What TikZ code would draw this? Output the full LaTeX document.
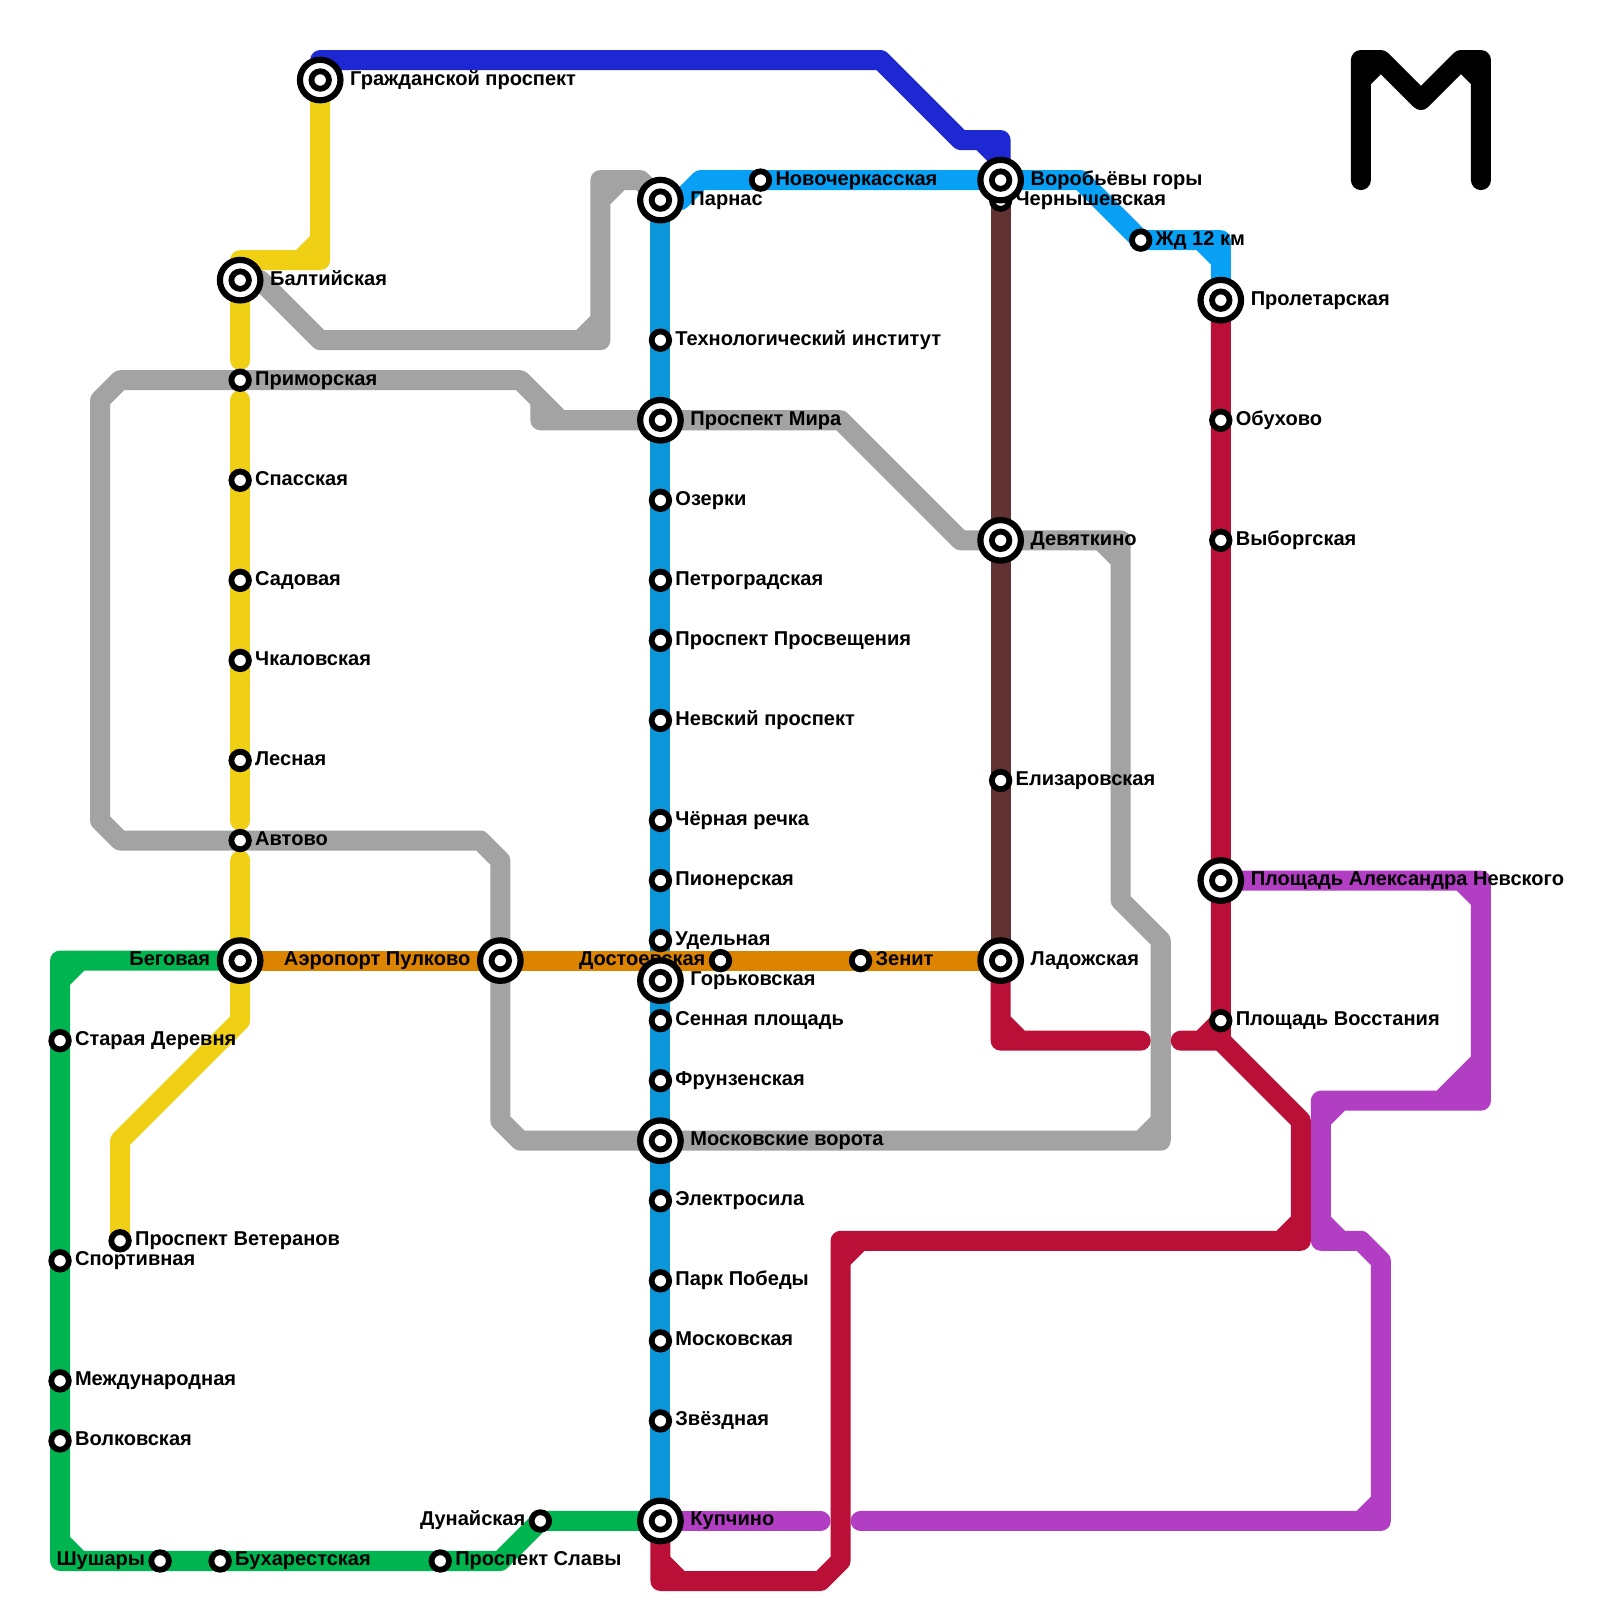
\documentclass[tikz,border=0pt]{standalone}
\usepackage{fontspec}
\setmainfont{Liberation Sans}
\pgfdeclarelayer{bg}\pgfdeclarelayer{lines}\pgfdeclarelayer{labels}
\pgfsetlayers{bg,lines,labels,main}
\definecolor{cDark}{HTML}{1E28D2}
\definecolor{cSky}{HTML}{08A0F5}
\definecolor{cBlue}{HTML}{0A96D8}
\definecolor{cYellow}{HTML}{F0D014}
\definecolor{cGray}{HTML}{A3A3A3}
\definecolor{cGreen}{HTML}{00B450}
\definecolor{cOrange}{HTML}{DC8400}
\definecolor{cBrown}{HTML}{623232}
\definecolor{cRed}{HTML}{BA1038}
\definecolor{cPurple}{HTML}{B23EC4}
\tikzset{
  metro/.style={line width=2mm,line cap=round,line join=round},
  smallst/.style={circle,draw=black,fill=white,line width=0.58mm,minimum size=1.75mm,inner sep=0pt,outer sep=0pt},
  bigst/.style={circle,draw=black,fill=white,line width=0.62mm,minimum size=4.05mm,inner sep=0pt,outer sep=0pt,
    path picture={\draw[black,line width=0.58mm] (path picture bounding box.center) circle (0.875mm);}},
  lab/.style={font=\bfseries\fontsize{5.7}{6.8}\selectfont,text=black,inner sep=0pt,outer sep=0pt}
}
\newcommand{\sst}[3]{\node[smallst] (#1) at (#2,#3) {};}
\newcommand{\bst}[3]{\node[bigst] (#1) at (#2,#3) {};}
\newcommand{\lbl}[4]{\node[lab,anchor=base #2] (#1-l) at ([shift={(#3,5)}]#1.center) {#4};}
\begin{document}
\begin{tikzpicture}[x=0.1mm,y=-0.1mm]
\useasboundingbox (0,0) rectangle (1599,1599);
\begin{pgfonlayer}{bg}
\fill[white] (0,0) rectangle (1599,1599);
\end{pgfonlayer}

% stations
\bst{grazh}{320}{80}
\bst{balt}{240}{280}
\sst{prim}{240}{380}
\sst{spas}{240}{480}
\sst{sad}{240}{580}
\sst{chk}{240}{660}
\sst{les}{240}{760}
\sst{avt}{240}{840}
\bst{beg}{240}{960}
\sst{vet}{120}{1240}
\bst{parn}{660}{200}
\sst{tech}{660}{340}
\bst{mira}{660}{420}
\sst{ozer}{660}{500}
\sst{petr}{660}{580}
\sst{pros}{660}{640}
\sst{nev}{660}{720}
\sst{cher}{660}{820}
\sst{pion}{660}{880}
\sst{ude}{660}{940}
\bst{gor}{660}{980}
\sst{sen}{660}{1020}
\sst{fru}{660}{1080}
\bst{mosv}{660}{1140}
\sst{ele}{660}{1200}
\sst{park}{660}{1280}
\sst{mos}{660}{1340}
\sst{zve}{660}{1420}
\bst{kup}{660}{1520}
\bst{aer}{500}{960}
\sst{dos}{720}{960}
\sst{zen}{860}{960}
\bst{lad}{1000}{960}
\sst{sta}{60}{1040}
\sst{spo}{60}{1260}
\sst{mez}{60}{1380}
\sst{vol}{60}{1440}
\sst{shu}{160}{1560}
\sst{buh}{220}{1560}
\sst{sla}{440}{1560}
\sst{dun}{540}{1520}
\sst{che}{1000}{200}
\bst{vor}{1000}{180}
\bst{dev}{1000}{540}
\sst{eli}{1000}{780}
\sst{nov}{760}{180}
\sst{zhd}{1140}{240}
\bst{pro}{1220}{300}
\sst{obu}{1220}{420}
\sst{vyb}{1220}{540}
\bst{ale}{1220}{880}
\sst{vos}{1220}{1020}

% free line ends
\coordinate (yA) at (240,360);
\coordinate (yB) at (240,400);
\coordinate (yC) at (240,820);
\coordinate (yD) at (240,860);
\coordinate (rA) at (1140,1040);
\coordinate (rB) at (1180,1040);
\coordinate (pA) at (820,1520);
\coordinate (pB) at (860,1520);
\coordinate (mA) at (1360,180);
\coordinate (mB) at (1480,180);

\begin{pgfonlayer}{labels}
\lbl{grazh}{west}{30}{Гражданской проспект}
\lbl{balt}{west}{30}{Балтийская}
\lbl{prim}{west}{15}{Приморская}
\lbl{spas}{west}{15}{Спасская}
\lbl{sad}{west}{15}{Садовая}
\lbl{chk}{west}{15}{Чкаловская}
\lbl{les}{west}{15}{Лесная}
\lbl{avt}{west}{15}{Автово}
\lbl{beg}{east}{-30}{Беговая}
\lbl{vet}{west}{15}{Проспект Ветеранов}
\lbl{parn}{west}{30}{Парнас}
\lbl{tech}{west}{15}{Технологический институт}
\lbl{mira}{west}{30}{Проспект Мира}
\lbl{ozer}{west}{15}{Озерки}
\lbl{petr}{west}{15}{Петроградская}
\lbl{pros}{west}{15}{Проспект Просвещения}
\lbl{nev}{west}{15}{Невский проспект}
\lbl{cher}{west}{15}{Чёрная речка}
\lbl{pion}{west}{15}{Пионерская}
\lbl{ude}{west}{15}{Удельная}
\lbl{gor}{west}{30}{Горьковская}
\lbl{sen}{west}{15}{Сенная площадь}
\lbl{fru}{west}{15}{Фрунзенская}
\lbl{mosv}{west}{30}{Московские ворота}
\lbl{ele}{west}{15}{Электросила}
\lbl{park}{west}{15}{Парк Победы}
\lbl{mos}{west}{15}{Московская}
\lbl{zve}{west}{15}{Звёздная}
\lbl{kup}{west}{30}{Купчино}
\lbl{aer}{east}{-30}{Аэропорт Пулково}
\lbl{dos}{east}{-15}{Достоевская}
\lbl{zen}{west}{15}{Зенит}
\lbl{lad}{west}{30}{Ладожская}
\lbl{sta}{west}{15}{Старая Деревня}
\lbl{spo}{west}{15}{Спортивная}
\lbl{mez}{west}{15}{Международная}
\lbl{vol}{west}{15}{Волковская}
\lbl{shu}{east}{-15}{Шушары}
\lbl{buh}{west}{15}{Бухарестская}
\lbl{sla}{west}{15}{Проспект Славы}
\lbl{dun}{east}{-15}{Дунайская}
\lbl{che}{west}{15}{Чернышевская}
\lbl{vor}{west}{30}{Воробьёвы горы}
\lbl{dev}{west}{30}{Девяткино}
\lbl{eli}{west}{15}{Елизаровская}
\lbl{nov}{west}{15}{Новочеркасская}
\lbl{zhd}{west}{15}{Жд 12 км}
\lbl{pro}{west}{30}{Пролетарская}
\lbl{obu}{west}{15}{Обухово}
\lbl{vyb}{west}{15}{Выборгская}
\lbl{ale}{west}{30}{Площадь Александра Невского}
\lbl{vos}{west}{15}{Площадь Восстания}
\end{pgfonlayer}

\begin{pgfonlayer}{lines}
% gray
\draw[metro,cGray] (balt.center) -- (260,280) -- (320,340) -- (600,340) -- (600,180) -- (640,180) -- (parn.center)
  (580,340) -- (600,320) (600,200) -- (620,180);
\draw[metro,cGray] (prim.center) -- (520,380) -- (540,400) -- (540,420) -- (mira.center) -- (840,420) -- (960,540) -- (dev.center) -- (1120,540) -- (1120,900) -- (1160,940) -- (1160,1140) -- (mosv.center) -- (520,1140) -- (500,1120) -- (aer.center) -- (500,860) -- (480,840) -- (avt.center) -- (120,840) -- (100,820) -- (100,400) -- (120,380) -- (prim.center)
  (540,400) -- (560,420) (1100,540) -- (1120,560) (1140,1140) -- (1160,1120);
% yellow
\draw[metro,cYellow] (grazh.center) -- (320,260) -- (240,260) -- (balt.center) -- (yA)
  (320,240) -- (300,260);
\draw[metro,cYellow] (yB) -- (yC);
\draw[metro,cYellow] (yD) -- (beg.center) -- (240,1020) -- (120,1140) -- (vet.center);
% purple
\draw[metro,cPurple] (ale.center) -- (1480,880) -- (1480,1100) -- (1320,1100) -- (1320,1240) -- (1360,1240) -- (1380,1260) -- (1380,1520) -- (pB)
  (1460,880) -- (1480,900) (1440,1100) -- (1480,1060) (1460,1100) -- (1480,1080) (1320,1120) -- (1340,1100) (1320,1220) -- (1340,1240) (1360,1520) -- (1380,1500);
\draw[metro,cPurple] (kup.center) -- (pA);
% crimson
\draw[metro,cRed] (pro.center) -- (vos.center) -- (1220,1040) -- (rB) (1200,1040) -- (1220,1020);
\draw[metro,cRed] (1220,1040) -- (1300,1120) -- (1300,1240) -- (840,1240) -- (840,1560) -- (820,1580) -- (660,1580) -- (kup.center)
  (1280,1240) -- (1300,1220) (840,1260) -- (860,1240) (660,1560) -- (680,1580);
\draw[metro,cRed] (lad.center) -- (1000,1040) -- (rA) (1000,1020) -- (1020,1040);
% green
\draw[metro,cGreen] (beg.center) -- (60,960) -- (60,1560) -- (500,1560) -- (dun.center) -- (kup.center)
  (60,980) -- (80,960) (60,1540) -- (80,1560);
% blue
\draw[metro,cBlue] (parn.center) -- (kup.center);
% orange
\draw[metro,cOrange] (beg.center) -- (lad.center);
% brown
\draw[metro,cBrown] (che.center) -- (lad.center);
% sky
\draw[metro,cSky] (parn.center) -- (680,200) -- (700,180) -- (vor.center) -- (1080,180) -- (zhd.center) -- (1220,240) -- (pro.center)
  (1200,240) -- (1220,260);
% dark blue
\draw[metro,cDark] (grazh.center) -- (320,60) -- (880,60) -- (960,140) -- (1000,140) -- (vor.center)
  (980,140) -- (1000,160);
% M
\draw[metro,black] (mA) -- (1360,60) -- (1380,60) -- (1420,100) -- (1460,60) -- (1480,60) -- (mB)
  (1360,80) -- (1380,60) (1460,60) -- (1480,80);
\end{pgfonlayer}
\end{tikzpicture}
\end{document}
